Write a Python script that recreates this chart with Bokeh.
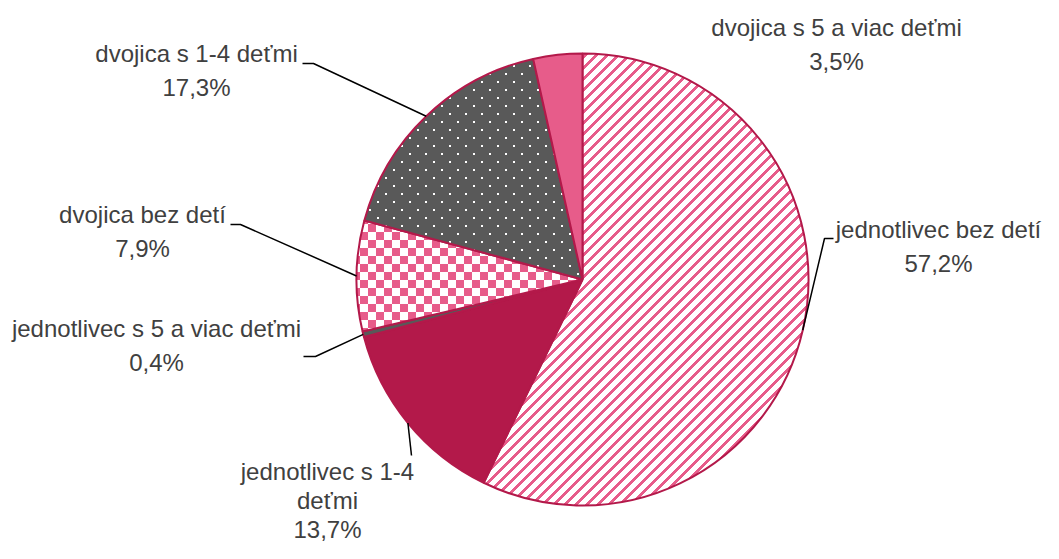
import math, zlib, struct, base64
from bokeh.plotting import figure
from bokeh.models import ColumnDataSource, Range1d, ImageURLTexture
from bokeh.core.properties import value
from bokeh.embed import file_html
from bokeh.resources import INLINE

# ---- data ----
categories = ["jednotlivec bez detí", "jednotlivec s 1-4 deťmi", "jednotlivec s 5 a viac deťmi",
              "dvojica bez detí", "dvojica s 1-4 deťmi", "dvojica s 5 a viac deťmi"]
label_lines = [["jednotlivec bez detí"], ["jednotlivec s 1-4", "deťmi"], ["jednotlivec s 5 a viac deťmi"],
               ["dvojica bez detí"], ["dvojica s 1-4 deťmi"], ["dvojica s 5 a viac deťmi"]]
shares = [57.2, 13.7, 0.4, 7.9, 17.3, 3.5]

# ---- styles ----
PINK = "#E75C8A"
CRIMSON = "#B3194A"
GRAY = "#595959"
TEXT = "#404040"
PINK_RGB = (0xE7, 0x5C, 0x8A)
GRAY_RGB = (0x59, 0x59, 0x59)
WHITE_RGB = (255, 255, 255)


def png_url(w, h, pix):
    raw = b"".join(b"\x00" + b"".join(bytes(pix(x, y)) for x in range(w)) for y in range(h))
    def chunk(t, d):
        c = struct.pack(">I", len(d)) + t + d
        return c + struct.pack(">I", zlib.crc32(t + d) & 0xFFFFFFFF)
    data = (b"\x89PNG\r\n\x1a\n" + chunk(b"IHDR", struct.pack(">IIBBBBB", w, h, 8, 2, 0, 0, 0))
            + chunk(b"IDAT", zlib.compress(raw)) + chunk(b"IEND", b""))
    return "data:image/png;base64," + base64.b64encode(data).decode()


stripes_url = png_url(11, 11, lambda x, y: PINK_RGB if (x + y) % 11 < 4 else WHITE_RGB)
checker_url = png_url(16, 16, lambda x, y: PINK_RGB if ((x // 8) + (y // 8)) % 2 == 0 else WHITE_RGB)
dots_url = png_url(16, 16, lambda x, y: WHITE_RGB if ((1 <= x <= 2 and 1 <= y <= 2) or (9 <= x <= 10 and 9 <= y <= 10)) else GRAY_RGB)

fill_colors = ["white", CRIMSON, GRAY, "white", GRAY, PINK]
hatch_patterns = ["stripes", "blank", "blank", "checker", "dots", "blank"]

W, H = 1043, 543
def sx(x):  # reference-picture x -> data x
    return x
def sy(y):  # reference-picture y -> data y
    return H - y

CX, CY, R = sx(582), sy(279), 226

# label layout: (text center x, first line center y, elbow point, elbow end) in picture px
label_layout = [
    (938, 229, (824, 238), (833, 238)),
    (327, 471, (411, 455), None),
    (156, 328, (315, 356), (303, 356)),
    (142, 214, (240, 224), (230, 224)),
    (196, 53, (313, 63), (302, 63)),
    (836, 27, None, None),
]
LINE_H = [34, 29, 34, 34, 34, 34]
FONT_SIZE = "24px"

starts, ends, mids = [], [], []
cum = 0.0
for s in shares:
    a0 = math.pi / 2 - 2 * math.pi * cum / 100.0
    cum += s
    a1 = math.pi / 2 - 2 * math.pi * cum / 100.0
    starts.append(a0)
    ends.append(a1)
    mids.append((a0 + a1) / 2)

src = ColumnDataSource(dict(start=starts, end=ends, fill=fill_colors, hp=hatch_patterns))

textures = {
    "stripes": ImageURLTexture(url=stripes_url, repetition="repeat"),
    "checker": ImageURLTexture(url=checker_url, repetition="repeat"),
    "dots": ImageURLTexture(url=dots_url, repetition="repeat"),
}

p = figure(width=W, height=H, output_backend="svg", toolbar_location=None,
           x_range=Range1d(0, W), y_range=Range1d(0, H), min_border=0)
p.axis.visible = False
p.grid.visible = False
p.outline_line_color = None
p.background_fill_color = "white"
p.border_fill_color = "white"

p.wedge(x=CX, y=CY, radius=R, start_angle="start", end_angle="end", direction="clock",
        fill_color="fill", line_color=CRIMSON, line_width=2,
        hatch_pattern="hp", hatch_extra=textures, source=src)

# leader lines + labels
for i, (lines, s) in enumerate(zip(label_lines, shares)):
    tx, ty, elbow, end = label_layout[i]
    ex = CX + R * math.cos(mids[i])
    ey = CY + R * math.sin(mids[i])
    if elbow is not None:
        xs = [ex, sx(elbow[0])]
        ys = [ey, sy(elbow[1])]
        if end is not None:
            xs.append(sx(end[0]))
            ys.append(sy(end[1]))
        p.line(xs, ys, line_color="black", line_width=1.5)
    all_lines = lines + [f"{s:.1f}".replace(".", ",") + "%"]
    for k, t in enumerate(all_lines):
        p.text(x=[sx(tx)], y=[sy(ty + k * LINE_H[i])], text=[t], text_align="center",
               text_baseline="middle", text_color=TEXT, text_font_size=FONT_SIZE,
               text_font=value("Liberation Sans"))

open("out.html", "w").write(file_html(p, INLINE))
